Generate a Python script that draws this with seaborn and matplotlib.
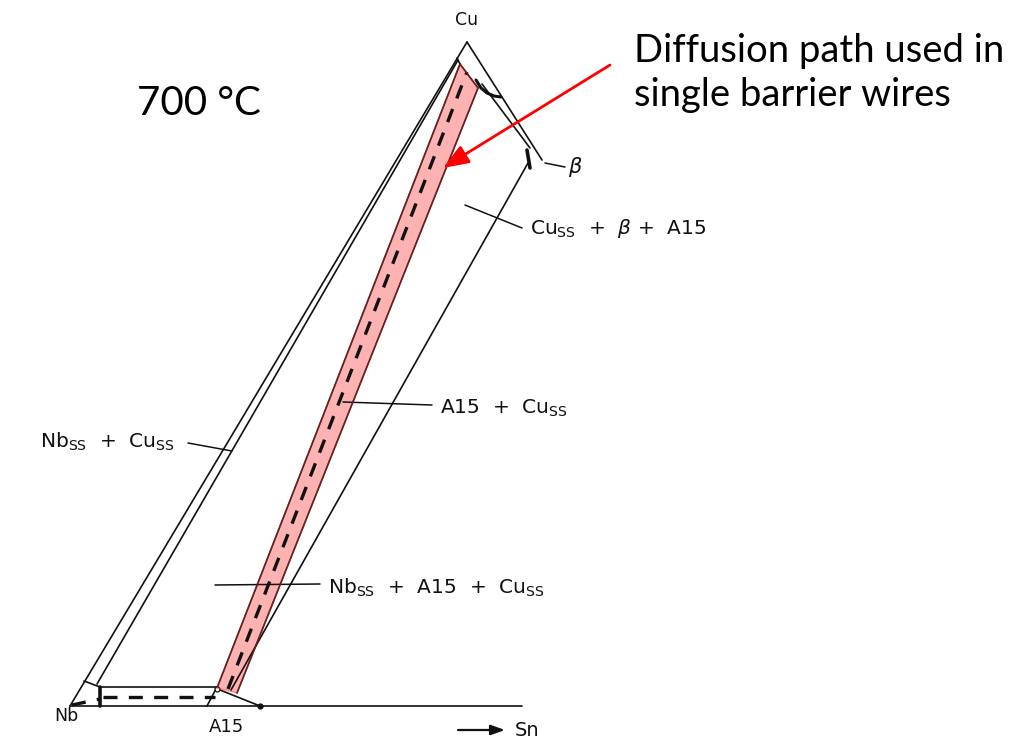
import numpy as np
import pandas as pd
import matplotlib
matplotlib.use("Agg")
import matplotlib.pyplot as plt
import seaborn as sns

# Isothermal section of the Cu–Nb–Sn system (Cu-rich corner), drawn in
# sheet coordinates (x to the right, y downwards).

# corners of the section
corner_names = ["Cu", "Nb", "beta"]
corner_x = [467, 70, 542]
corner_y = [42, 706, 160]

# thin phase-boundary and tie lines: (x0, y0, x1, y1)
boundary_x0 = [70, 467, 97, 482, 231, 70, 84, 100, 217, 220, 217, 237, 457, 460]
boundary_y0 = [706, 42, 684, 84, 690, 706, 681, 687, 687, 690, 688, 693, 58, 64]
boundary_x1 = [467, 542, 458, 530, 528, 522, 100, 217, 207, 260, 460, 478, 460, 478]
boundary_y1 = [42, 160, 60, 148, 163, 706, 687, 687, 706, 706, 64, 88, 64, 88]

# heavy single-phase boundaries
heavy_x0 = [100, 527]
heavy_y0 = [687, 150]
heavy_x1 = [100, 530]
heavy_y1 = [706, 168]

# Cu solid-solution limit (curved)
arc_x = [476, 481, 487, 494, 501]
arc_y = [80, 88, 93, 96, 97]

# dashed diffusion path lines
path_x0 = [228, 103, 72]
path_y0 = [689, 697, 705]
path_x1 = [467, 215, 100]
path_y1 = [72, 697, 699]

# highlighted diffusion band (polygon)
band_x = [217, 237, 478, 460]
band_y = [688, 693, 88, 64]

# label leader lines
leader_x0 = [188, 215, 343, 465, 545]
leader_y0 = [443, 585, 402, 205, 163]
leader_x1 = [232, 320, 432, 522, 565]
leader_y1 = [451, 584, 405, 228, 167]

# phase-field labels
SS = r"$_{\mathregular{SS}}$"
field_labels = ["Nb" + SS + "  +  Cu" + SS,
                "Nb" + SS + "  +  A15  +  Cu" + SS,
                "A15  +  Cu" + SS,
                "Cu" + SS + "  +  " + r"$\beta$" + " +  A15"]
field_x = [40, 328, 440, 530]
field_y = [442, 588, 408, 228]

sns.set_theme(style="white")
plt.rcParams["mathtext.fontset"] = "dejavusans"

fig = plt.figure(figsize=(10.09, 7.38), dpi=100)
ax = fig.add_axes([0, 0, 1, 1])
ax.set_xlim(0, 1009)
ax.set_ylim(738, 0)
ax.set_axis_off()


def segments(x0, y0, x1, y1):
    rows = []
    for i, (a, b, c, d) in enumerate(zip(x0, y0, x1, y1)):
        rows.append((i, 0, a, b))
        rows.append((i, 1, c, d))
    return pd.DataFrame(rows, columns=["seg", "k", "x", "y"])


ink = "#111111"

sns.lineplot(data=segments(boundary_x0, boundary_y0, boundary_x1, boundary_y1),
             x="x", y="y", units="seg", estimator=None, sort=False,
             color=ink, lw=1.2, ax=ax, legend=False)
sns.lineplot(data=segments(leader_x0, leader_y0, leader_x1, leader_y1),
             x="x", y="y", units="seg", estimator=None, sort=False,
             color=ink, lw=1.1, ax=ax, legend=False)
sns.lineplot(data=segments(heavy_x0, heavy_y0, heavy_x1, heavy_y1),
             x="x", y="y", units="seg", estimator=None, sort=False,
             color=ink, lw=2.6, ax=ax, legend=False)
sns.lineplot(x=arc_x, y=arc_y, sort=False, estimator=None,
             color=ink, lw=2.2, ax=ax)
ax.plot([260], [706], "o", color=ink, ms=3.5)
ax.plot([217], [689], "o", mfc="white", mec=ink, ms=3.5, mew=0.9)

for a, b, c, d in zip(path_x0, path_y0, path_x1, path_y1):
    ax.plot([a, c], [b, d], color=ink, lw=2.4, dashes=(4.2, 3.4),
            solid_capstyle="butt", dash_capstyle="butt")

# translucent red band over the path
ax.fill(band_x, band_y, color="#ff0000", alpha=0.30, lw=0)
ax.plot(band_x + band_x[:1], band_y + band_y[:1], color="#e83030",
        lw=1.0, alpha=0.45)

# corner and axis labels
lab_font = dict(family="DejaVu Sans", color=ink)
ax.text(467, 20, "Cu", ha="center", va="center", fontsize=12.5, **lab_font)
ax.text(66, 716, "Nb", ha="center", va="center", fontsize=12.5, **lab_font)
ax.text(226, 727, "A15", ha="center", va="center", fontsize=13, **lab_font)
ax.text(527, 730, "Sn", ha="center", va="center", fontsize=14, **lab_font)
ax.text(575, 167, r"$\beta$", ha="center", va="center", fontsize=15, **lab_font)
ax.annotate("", xy=(505, 730), xytext=(458, 730),
            arrowprops=dict(arrowstyle="-|>,head_length=0.7,head_width=0.25",
                            color=ink, lw=1.6, shrinkA=0, shrinkB=0))

for t, x, y in zip(field_labels, field_x, field_y):
    ax.text(x, y, t, ha="left", va="center", fontsize=14.5, **lab_font)

# temperature and annotation
ax.text(137, 115, "700 °C", ha="left", va="baseline", fontsize=29,
        family="Lato", color="black")
ax.text(634, 62, "Diffusion path used in", ha="left", va="baseline",
        fontsize=27.5, family="Lato", color="black")
ax.text(634, 106, "single barrier wires", ha="left", va="baseline",
        fontsize=27.5, family="Lato", color="black")
ax.annotate("", xy=(443, 168), xytext=(610, 65),
            arrowprops=dict(arrowstyle="-|>,head_length=1.3,head_width=0.5",
                            color="#ff0000", lw=2.0, shrinkA=0, shrinkB=0))

fig.savefig("out.png", dpi=100)
